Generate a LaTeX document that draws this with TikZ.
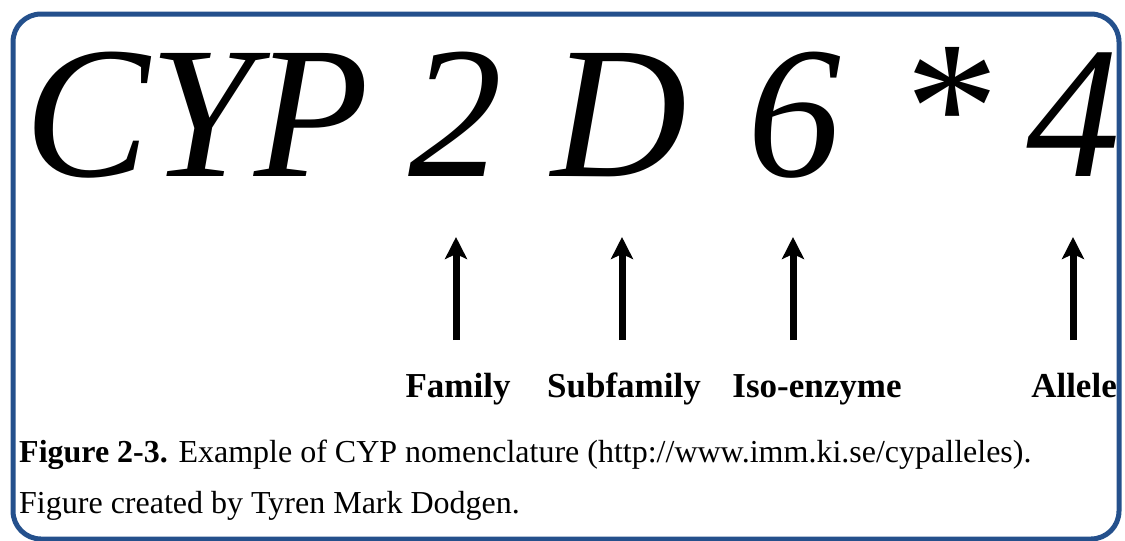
\documentclass[tikz,border=0pt]{standalone}
\usepackage{fontspec}
\setmainfont{Liberation Serif}
\usetikzlibrary{arrows.meta}
\definecolor{frameblue}{RGB}{36,80,140}
\tikzset{
  glyph/.style={font=\fontsize{188}{200}\selectfont\itshape, inner sep=0pt, anchor=base},
  part/.style={font=\fontsize{35}{40}\selectfont\bfseries, inner sep=0pt, anchor=base},
  caption/.style={font=\fontsize{32}{40}\selectfont, inner sep=0pt, anchor=base west},
  uparrow/.style={line width=7pt, -{Stealth[length=22pt, width=22pt, inset=5pt]}},
}
\begin{document}
\begin{tikzpicture}[x=1pt, y=-1pt]
  \useasboundingbox (0,0) rectangle (1125,541);
  % rounded frame
  \draw[frameblue, line width=5pt, rounded corners=28pt] (13,14) rectangle (1119,539);

  % the gene name, glyph by glyph
  \node[glyph, anchor=base west] (cyp) at (24,176) {CYP};
  \node[glyph] (two)  at (455,176) {2};
  \node[glyph] (dd)   at (619,176) {D};
  \node[glyph] (six)  at (794,176) {6};
  \node[glyph] (star) at (943,170) {*};
  \node[glyph] (four) at (1073,176) {4};

  % labels of the parts
  \node[part] (fam)  at (458,397) {Family};
  \node[part] (sub)  at (624,397) {Subfamily};
  \node[part] (iso)  at (817,397) {Iso-enzyme};
  \node[part] (all)  at (1074,397) {Allele};

  % arrows pointing up to the parts
  \coordinate (f0) at (456,340); \coordinate (f1) at (456,237);
  \coordinate (s0) at (622,340); \coordinate (s1) at (622,237);
  \coordinate (i0) at (793,340); \coordinate (i1) at (793,237);
  \coordinate (a0) at (1073,340); \coordinate (a1) at (1073,237);
  \draw[uparrow] (f0) -- (f1);
  \draw[uparrow] (s0) -- (s1);
  \draw[uparrow] (i0) -- (i1);
  \draw[uparrow] (a0) -- (a1);

  % caption
  \node[caption] (cap1) at (19,462) {\textbf{Figure 2-3.} Example of CYP nomenclature (http://www.imm.ki.se/cypalleles).};
  \node[caption] (cap2) at (19,513) {Figure created by Tyren Mark Dodgen.};
\end{tikzpicture}
\end{document}
